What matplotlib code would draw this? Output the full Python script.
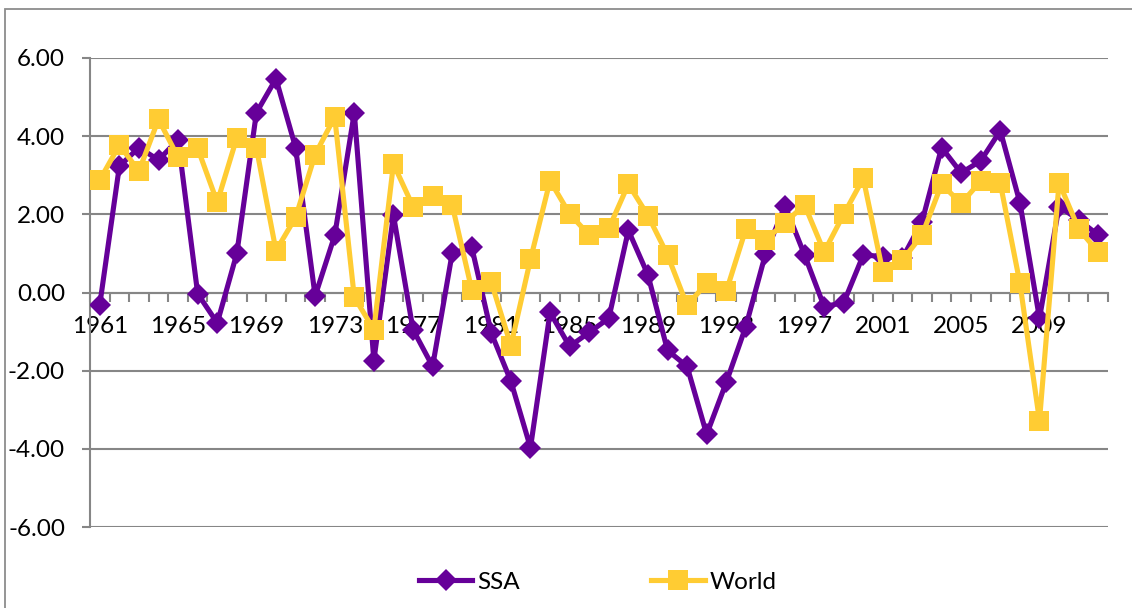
import matplotlib
matplotlib.use("Agg")
import matplotlib.pyplot as plt
from matplotlib.patches import Rectangle
from matplotlib.ticker import FixedLocator
import numpy as np

plt.rcParams['font.family'] = ['Lato', 'DejaVu Sans']
plt.rcParams['axes.unicode_minus'] = False

years = list(range(1961, 2013))
ssa = [-0.31, 3.23, 3.71, 3.39, 3.91, -0.03, -0.78, 1.00, 4.60, 5.47,
       3.71, -0.09, 1.46, 4.60, -1.74, 1.98, -0.95, -1.89, 1.00, 1.16,
       -1.04, -2.27, -3.97, -0.51, -1.38, -1.02, -0.66, 1.59, 0.45, -1.48,
       -1.89, -3.63, -2.30, -0.87, 0.98, 2.22, 0.96, -0.36, -0.26, 0.96,
       0.92, 0.88, 1.81, 3.71, 3.06, 3.37, 4.14, 2.30, -0.66, 2.20,
       1.86, 1.47]
world = [2.88, 3.77, 3.11, 4.43, 3.46, 3.69, 2.31, 3.96, 3.70, 1.07,
         1.92, 3.53, 4.49, -0.12, -0.95, 3.29, 2.20, 2.47, 2.24, 0.07,
         0.26, -1.36, 0.85, 2.86, 2.01, 1.47, 1.64, 2.77, 1.97, 0.96,
         -0.33, 0.24, 0.03, 1.62, 1.34, 1.79, 2.24, 1.04, 2.00, 2.92,
         0.52, 0.83, 1.47, 2.77, 2.28, 2.85, 2.79, 0.24, -3.28, 2.81,
         1.63, 1.03]
y_ticks = [-6, -4, -2, 0, 2, 4, 6]
label_step = 4

purple = '#660099'
yellow = '#FFCC33'
grid_gray = '#868686'

W, H = 1132, 608
fig = plt.figure(figsize=(W / 100, H / 100), dpi=100)

# outer chart border
fig.patches.append(Rectangle((5 / W, -0.2), 1.5, 1.2 - 9 / H,
                             transform=fig.transFigure, fill=False,
                             edgecolor='#8c8c8c', linewidth=1.3))

ax = fig.add_axes([90 / W, 1 - 527 / H, (1108 - 90) / W, (527 - 58) / H])

x = np.arange(len(years))
ax.plot(x, ssa, color=purple, linewidth=3.7, marker='D', markersize=11.5,
        markeredgewidth=0, label='SSA', zorder=3)
ax.plot(x, world, color=yellow, linewidth=3.7, marker='s', markersize=14,
        markeredgewidth=0, label='World', zorder=4)

ax.set_xlim(-0.5, len(years) - 0.5)
ax.set_ylim(min(y_ticks), max(y_ticks))

for s in ['top', 'right']:
    ax.spines[s].set_visible(False)
ax.spines['left'].set_color(grid_gray)
ax.spines['left'].set_linewidth(1.5)
ax.spines['bottom'].set_position(('data', 0))
ax.spines['bottom'].set_color(grid_gray)
ax.spines['bottom'].set_linewidth(1.5)

ax.set_yticks(y_ticks)
ax.set_yticklabels([f"{v:.2f}" for v in y_ticks])
ax.yaxis.grid(True, color=grid_gray, linewidth=1.5)
ax.set_axisbelow(True)
ax.tick_params(axis='y', length=6, width=1.5, color=grid_gray,
               labelsize=17.5, pad=12, labelcolor='black')

ax.set_xticks(x[::label_step])
ax.set_xticklabels([str(y) for y in years[::label_step]])
ax.xaxis.set_minor_locator(FixedLocator(np.arange(-0.5, len(years), 1.0)))
ax.tick_params(axis='x', which='major', length=0, labelsize=17.5, pad=17,
               labelcolor='black')
ax.tick_params(axis='x', which='minor', length=6.5, width=1.5,
               color=grid_gray, direction='out')

fig.legend(loc='center', bbox_to_anchor=(0.528, 1 - 582 / H), ncol=2,
           frameon=False, fontsize=17.5, handlelength=2.2, handletextpad=0.2,
           columnspacing=5.4)

fig.savefig('out.png', dpi=100)
